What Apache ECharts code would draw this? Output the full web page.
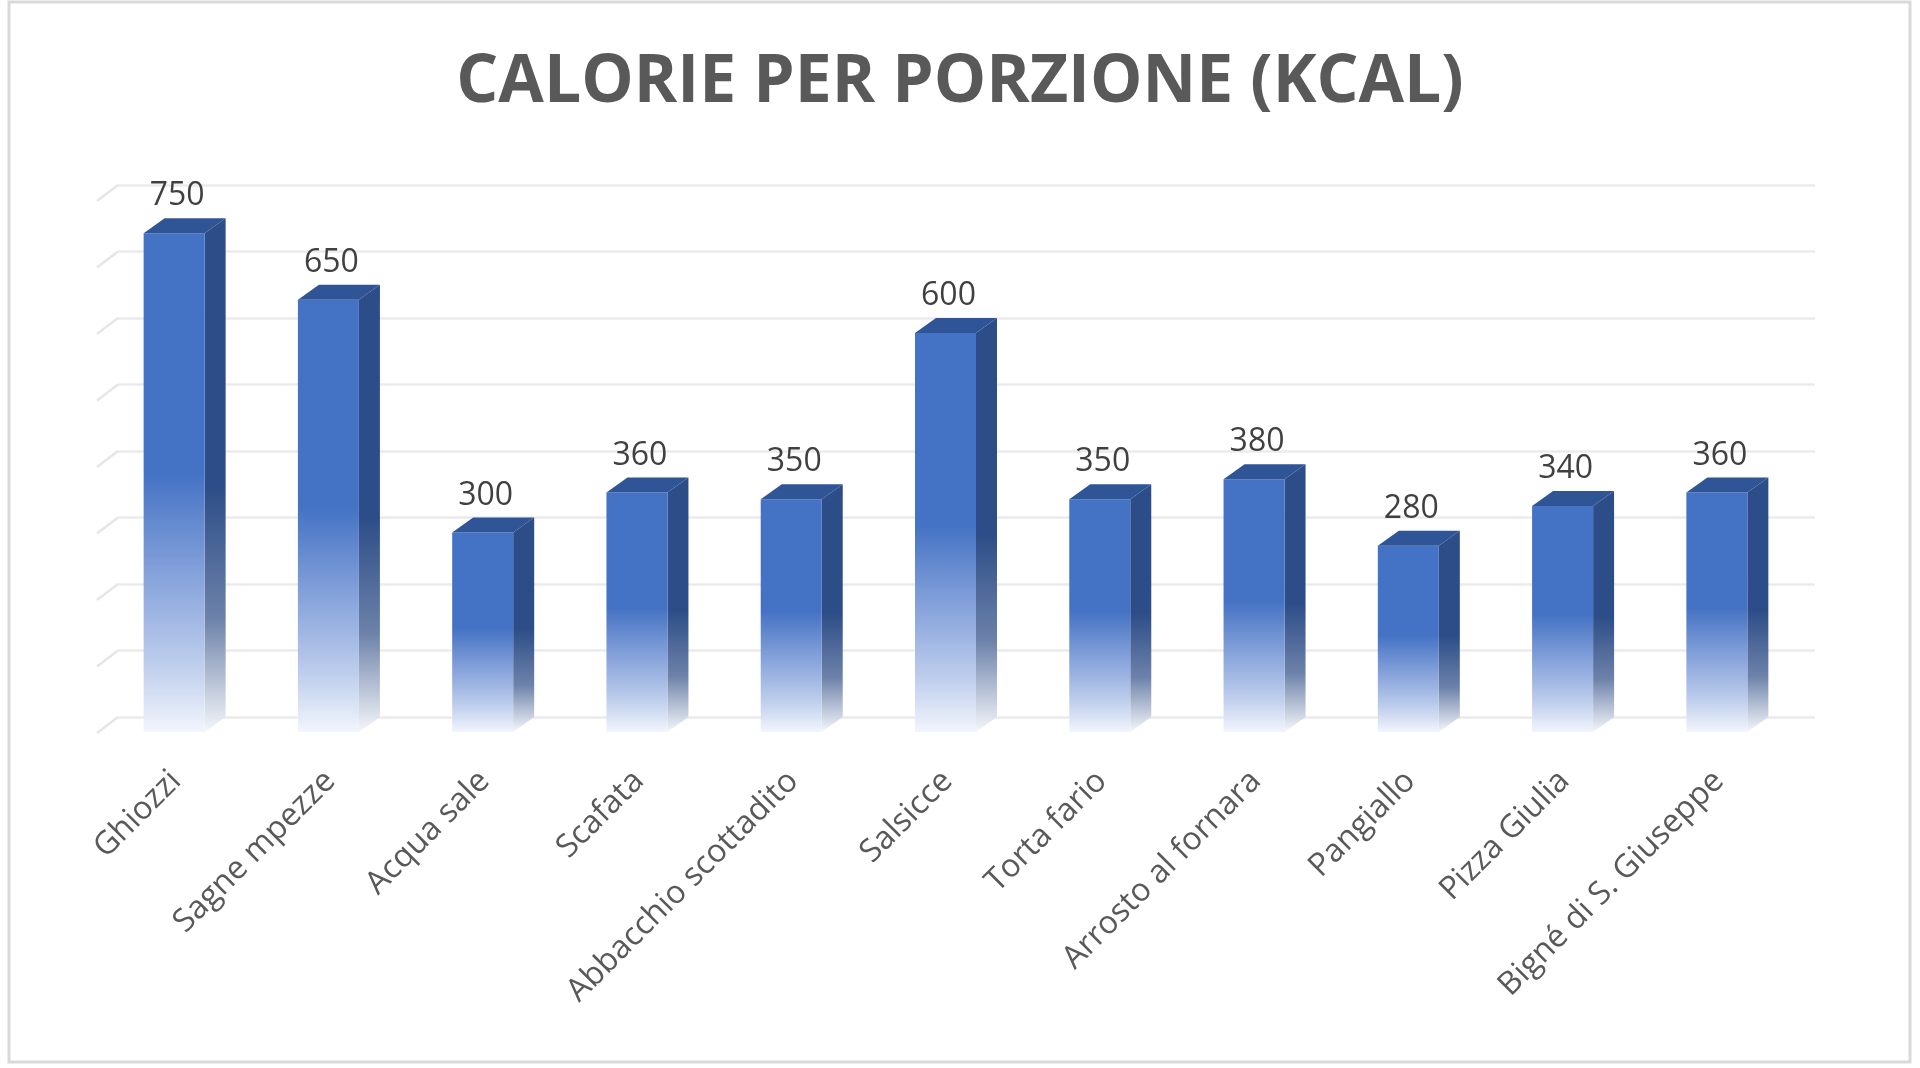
<!DOCTYPE html>
<html>
<head>
<meta charset="utf-8">
<style>
html,body{margin:0;padding:0;background:#fff;}
#c{width:1920px;height:1068px;}
</style>
<script src="https://cdn.jsdelivr.net/npm/echarts@6/dist/echarts.min.js"></script>
</head>
<body>
<div id="c"></div>
<script>
const titleText = 'CALORIE PER PORZIONE (KCAL)';
const categories = ['Ghiozzi','Sagne mpezze','Acqua sale','Scafata','Abbacchio scottadito','Salsicce','Torta fario','Arrosto al fornara','Pangiallo','Pizza Giulia','Bigné di S. Giuseppe'];
const calories = [750,650,300,360,350,600,350,380,280,340,360];
const gridTicks = [0,100,200,300,400,500,600,700,800];

const chart = echarts.init(document.getElementById('c'));
const BW = 61, DX = 21, DY = 15;

const frontGrad = new echarts.graphic.LinearGradient(0,0,0,1,[
  {offset:0,color:'#4472C4'},
  {offset:0.48,color:'#4472C4'},
  {offset:0.68,color:'#84A1DA'},
  {offset:0.86,color:'#BCCCEC'},
  {offset:1,color:'#F2F5FC'}
]);
const sideGrad = new echarts.graphic.LinearGradient(0,0,0,1,[
  {offset:0,color:'#2C4D87'},
  {offset:0.52,color:'#2C4D87'},
  {offset:0.78,color:'#6D82AA'},
  {offset:1,color:'#F4F6FA'}
]);

function renderBar(params, api){
  const i = api.value(0), v = api.value(1);
  const pt = api.coord([i, v]);
  const pb = api.coord([i, 0]);
  const cx = pt[0];
  const fl = cx - BW/2 - DX, fr = fl + BW;
  const ft = pt[1] + DY, fb = pb[1] + DY;
  return {
    type:'group',
    children:[
      {type:'polygon', shape:{points:[[fr,ft],[fr+DX,ft-DY],[fr+DX,fb-DY],[fr,fb]]}, style:{fill:sideGrad}},
      {type:'rect', shape:{x:fl,y:ft,width:BW,height:fb-ft}, style:{fill:frontGrad}},
      {type:'polygon', shape:{points:[[fl,ft],[fr,ft],[fr+DX,ft-DY],[fl+DX,ft-DY]]}, style:{fill:'#2F5597'}},
      {type:'text', style:{text:String(v), x:fl+BW/2+3, y:ft-DY-6, align:'center', verticalAlign:'bottom',
        fill:'#404040', font:'32px "Open Sans"'}}
    ]
  };
}

function renderFloor(params, api){
  const v = api.value(1);
  const p = api.coord([0, v]);
  const x0 = params.coordSys.x;
  return {type:'line', shape:{x1:x0, y1:p[1], x2:x0-21, y2:p[1]+16},
    style:{stroke:'#E6E6E6', lineWidth:2.5}};
}

chart.setOption({
  animation:false,
  backgroundColor:'#ffffff',
  title:{text:titleText, left:'center', top:45,
    textStyle:{fontFamily:'Open Sans', fontWeight:'bold', fontSize:66, color:'#595959'}},
  grid:{left:118, right:105, top:185, bottom:351},
  graphic:[{type:'rect', shape:{x:9,y:2,width:1901,height:1060}, style:{fill:'none', stroke:'#D9D9D9', lineWidth:3}, z:-1}],
  xAxis:{type:'category', data:categories,
    axisLine:{show:false}, axisTick:{show:false},
    axisLabel:{rotate:45, margin:40, interval:0, padding:[0,27,0,0], color:'#595959', fontFamily:'Open Sans', fontSize:32}},
  yAxis:{type:'value', min:0, max:800, interval:100,
    axisLine:{show:false}, axisTick:{show:false}, axisLabel:{show:false},
    splitLine:{lineStyle:{color:'#EBEBEB', width:2.5}}},
  series:[
    {type:'custom', renderItem:renderFloor, data:gridTicks.map(t=>[0,t]), silent:true, z:1},
    {type:'custom', renderItem:renderBar, data:calories.map((v,i)=>[i,v]), z:2}
  ]
});
</script>
</body>
</html>
